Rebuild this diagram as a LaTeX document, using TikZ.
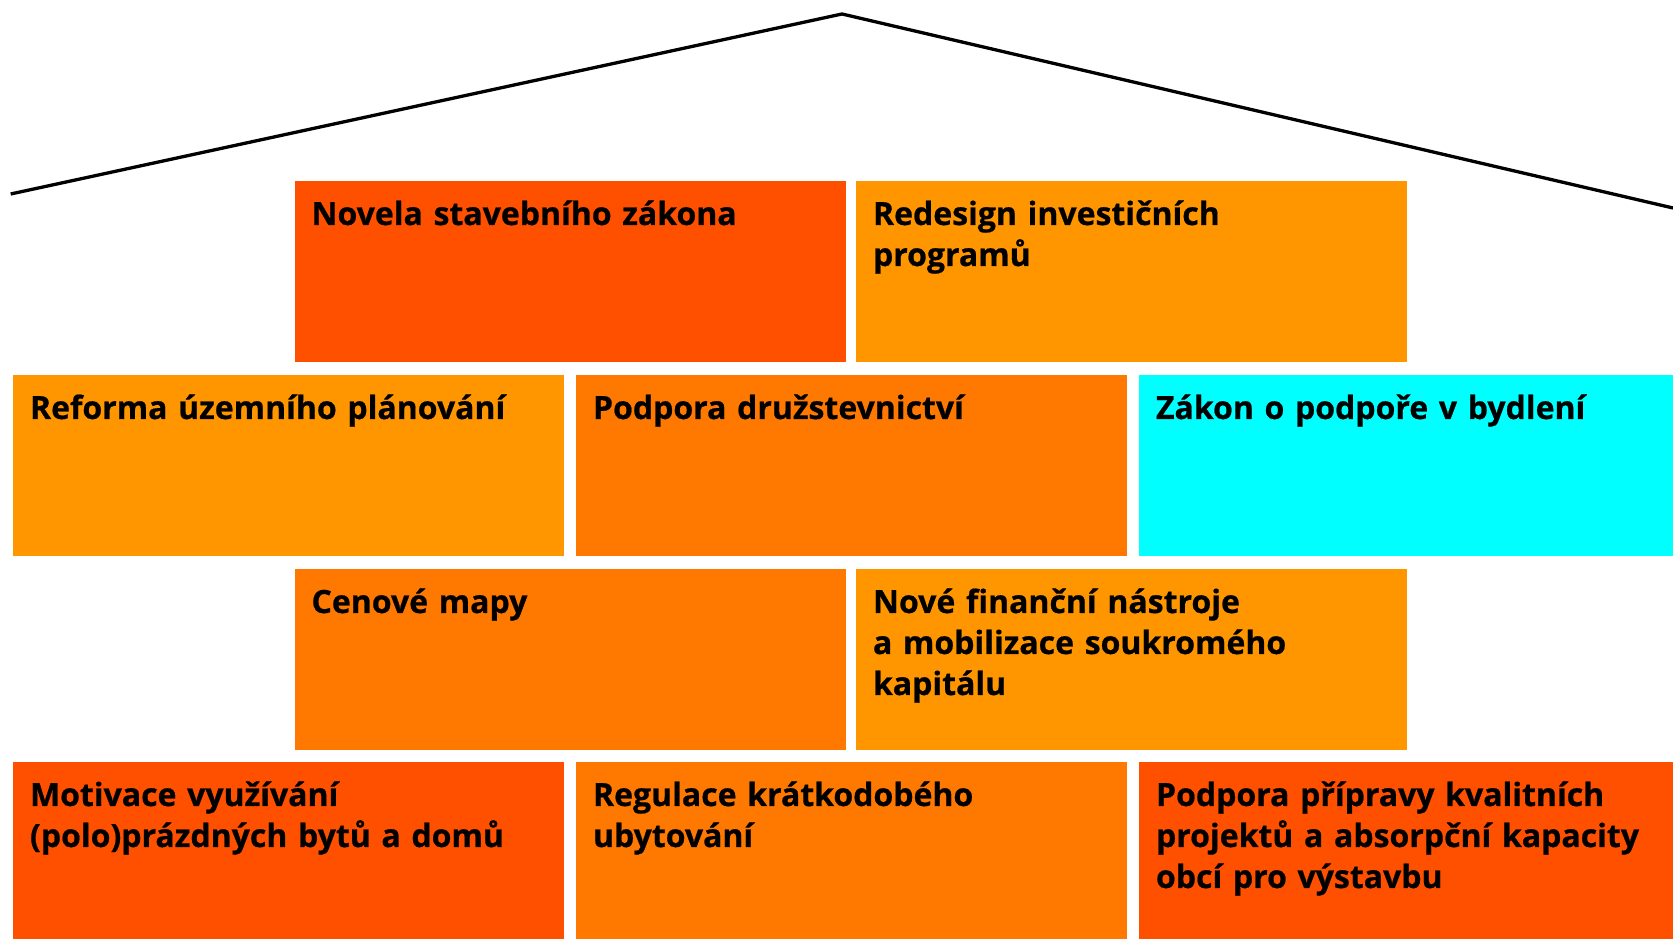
\documentclass[tikz,border=0pt]{standalone}
\usepackage{fontspec}
\setmainfont{Open Sans}[BoldFeatures={FakeBold=0.6}]
\usepackage{xcolor}

\definecolor{brickred}{RGB}{255,80,0}
\definecolor{brickorange}{RGB}{255,120,0}
\definecolor{brickamber}{RGB}{255,150,0}
\definecolor{brickcyan}{RGB}{0,255,255}

\begin{document}
\begin{tikzpicture}[%
      x=1pt, y=1pt,
      brick/.style={anchor=north west, inner xsep=17pt, inner ysep=0pt,
        outer sep=0pt, text width=517pt, align=left,
        text height=44pt, text depth=137pt,
        font=\fontsize{32}{41}\selectfont\bfseries},
      ]
      \useasboundingbox (0,0) rectangle (1673,939);

      % roof
      \draw [color=black, line width=3.3pt] (10.7,745) -- (842,925) -- (1673,731);

      % row 1
      \node [brick, fill=brickred] (novela) at (294.5,758) {Novela stavebního zákona};
      \node [brick, fill=brickamber] (redesign) at (856,758) {Redesign investičních\\programů};

      % row 2
      \node [brick, fill=brickamber] (reforma) at (13,564) {Reforma územního plánování};
      \node [brick, fill=brickorange] (druzstva) at (576,564) {Podpora družstevnictví};
      \node [brick, fill=brickcyan] (zakon) at (1139,564) {Zákon o podpoře v bydlení};

      % row 3
      \node [brick, fill=brickorange] (mapy) at (294.5,370) {Cenové mapy};
      \node [brick, fill=brickamber] (nastroje) at (856,370) {Nové finanční nástroje\\a mobilizace soukromého\\kapitálu};

      % row 4
      \node [brick, fill=brickred] (motivace) at (13,177) {Motivace využívání\\(polo)prázdných bytů a domů};
      \node [brick, fill=brickorange] (regulace) at (576,177) {Regulace krátkodobého\\ubytování};
      \node [brick, fill=brickred] (projekty) at (1139,177) {Podpora přípravy kvalitních\\projektů a absorpční kapacity\\obcí pro výstavbu};
      \end{tikzpicture}
\end{document}
